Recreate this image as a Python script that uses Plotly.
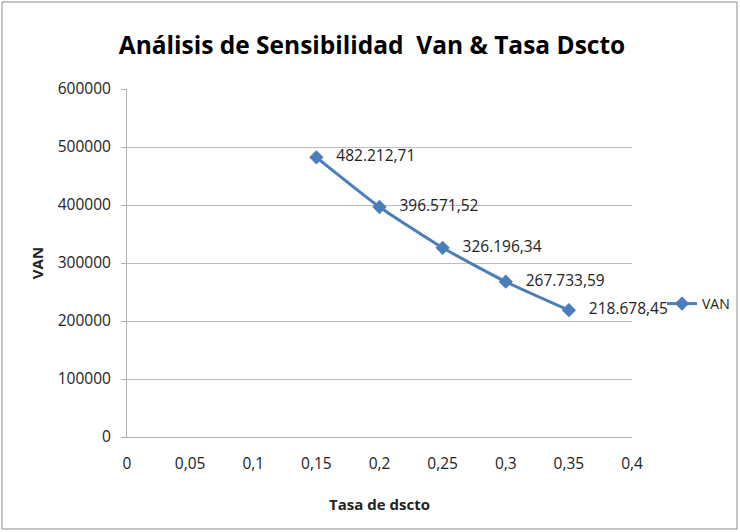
import plotly.graph_objects as go

tasa = [0.15, 0.20, 0.25, 0.30, 0.35]
van = [482212.71, 396571.52, 326196.34, 267733.59, 218678.45]

def fmt(v):
    s = f"{v:,.2f}"
    return s.replace(",", "X").replace(".", ",").replace("X", ".")

labels = [fmt(v) for v in van]

FONT = "Open Sans, Noto Sans, sans-serif"
BLUE = "#4a7ebb"

fig = go.Figure()
fig.add_trace(go.Scatter(
    x=tasa, y=van, name="VAN", mode="lines+markers+text",
    line=dict(color=BLUE, width=3, shape="spline", smoothing=0.5),
    marker=dict(symbol="diamond", size=11, color=BLUE),
    text=["\u00a0\u00a0\u00a0" + t for t in labels], textposition="middle right",
    textfont=dict(family=FONT, size=15.5, color="#222222"),
    cliponaxis=False,
))

L, R, T, B = 127, 108, 89, 95
W, H = 740, 532
pw, ph = W - L - R, H - T - B

fig.update_layout(
    width=W, height=H,
    margin=dict(l=L, r=R, t=T, b=B, autoexpand=False),
    paper_bgcolor="white", plot_bgcolor="white",
    separators=",.",
    title=dict(text="Análisis de Sensibilidad\u00a0\u00a0Van & Tasa Dscto",
               x=(372) / W, xanchor="center", y=1 - 45 / H, yanchor="middle",
               font=dict(family=FONT, size=24.5, color="black", weight="bold")),
    showlegend=True,
    legend=dict(x=(662 - L) / pw, y=(437 - 304) / ph, xanchor="left", yanchor="middle",
                font=dict(family=FONT, size=14, color="#222222"),
                bgcolor="rgba(0,0,0,0)", itemwidth=30, borderwidth=0,
                tracegroupgap=0),
    font=dict(family=FONT, size=15, color="#222222"),
)

fig.update_xaxes(
    range=[0, 0.4], dtick=0.05, tick0=0,
    showgrid=False, zeroline=False,
    showline=True, linecolor="#b0b0b0", linewidth=1,
    ticks="", ticklabelstandoff=12,
    tickfont=dict(family=FONT, size=15.5, color="#222222"),
    title=dict(text="<b>Tasa de dscto</b>", standoff=26,
               font=dict(family=FONT, size=15, color="#222222")),
)
fig.update_yaxes(
    range=[0, 600000], dtick=100000, tickformat="d",
    showgrid=True, gridcolor="#bdbdbd", gridwidth=1, zeroline=False,
    showline=True, linecolor="#b0b0b0", linewidth=1,
    ticks="outside", ticklen=5, tickcolor="#b0b0b0",
    ticklabelstandoff=7,
    tickfont=dict(family=FONT, size=15.5, color="#222222"),
    title=dict(text="<b>VAN</b>", standoff=10,
               font=dict(family=FONT, size=15, color="#222222")),
)

fig.add_shape(type="rect", xref="paper", yref="paper",
              x0=(2 - L) / pw, x1=(737 - L) / pw,
              y0=(437 - 529) / ph, y1=(437 - 2) / ph,
              line=dict(color="#8c8c8c", width=1), fillcolor="rgba(0,0,0,0)", layer="below")

fig.write_html("out.html", config={"displayModeBar": False},
               post_script="document.body.style.margin='0';document.body.style.overflow='hidden';")
